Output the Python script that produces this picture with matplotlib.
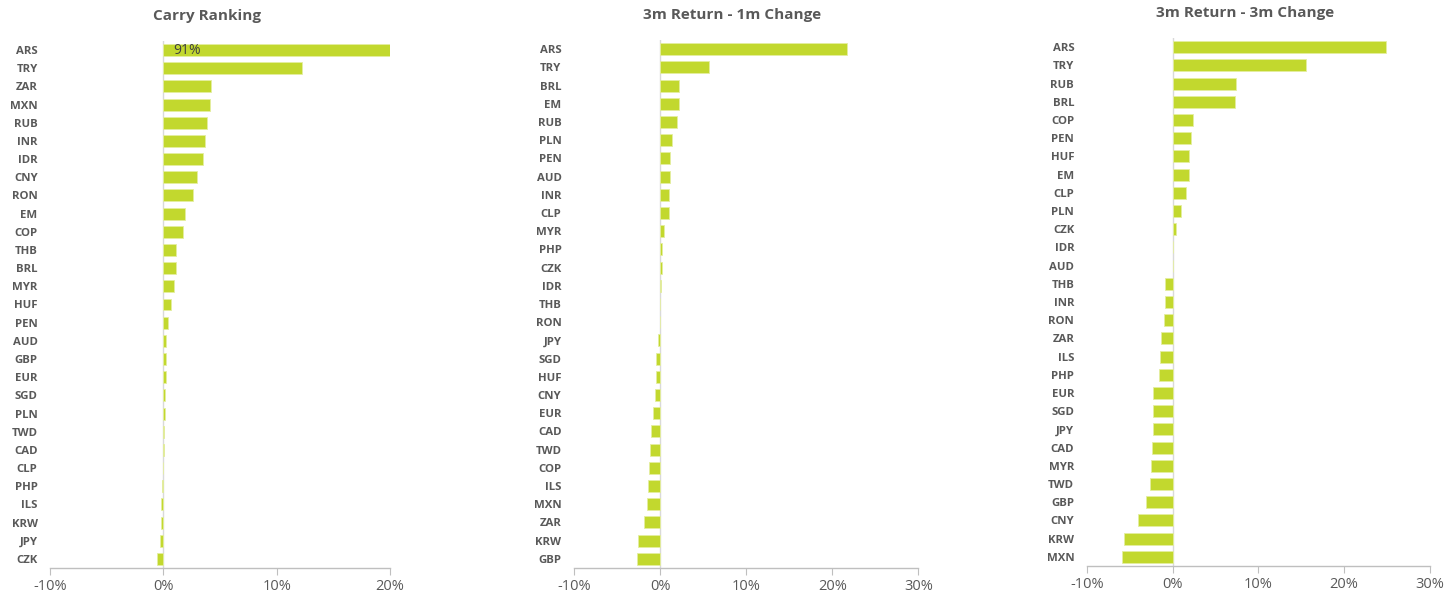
import matplotlib
matplotlib.use("Agg")
import matplotlib.pyplot as plt
from matplotlib.ticker import FuncFormatter

# ---------------- data (in %) ----------------
carry_ccy = ["ARS", "TRY", "ZAR", "MXN", "RUB", "INR", "IDR", "CNY", "RON", "EM",
             "COP", "THB", "BRL", "MYR", "HUF", "PEN", "AUD", "GBP", "EUR", "SGD",
             "PLN", "TWD", "CAD", "CLP", "PHP", "ILS", "KRW", "JPY", "CZK"]
carry_val = [91.0, 12.2, 4.2, 4.1, 3.86, 3.7, 3.5, 3.0, 2.65, 1.94,
             1.74, 1.15, 1.12, 0.94, 0.65, 0.38, 0.24, 0.22, 0.22, 0.18,
             0.12, 0.10, 0.03, 0.01, -0.10, -0.18, -0.22, -0.30, -0.55]

ret1m_ccy = ["ARS", "TRY", "BRL", "EM", "RUB", "PLN", "PEN", "AUD", "INR", "CLP",
             "MYR", "PHP", "CZK", "IDR", "THB", "RON", "JPY", "SGD", "HUF", "CNY",
             "EUR", "CAD", "TWD", "COP", "ILS", "MXN", "ZAR", "KRW", "GBP"]
ret1m_val = [21.7, 5.73, 2.2, 2.17, 1.93, 1.39, 1.12, 1.12, 1.0, 1.0,
             0.46, 0.27, 0.19, 0.05, 0.02, -0.02, -0.27, -0.43, -0.5, -0.62,
             -0.85, -1.0, -1.12, -1.3, -1.43, -1.55, -1.9, -2.52, -2.67]

ret3m_ccy = ["ARS", "TRY", "RUB", "BRL", "COP", "PEN", "HUF", "EM", "CLP", "PLN",
             "CZK", "IDR", "AUD", "THB", "INR", "RON", "ZAR", "ILS", "PHP", "EUR",
             "SGD", "JPY", "CAD", "MYR", "TWD", "GBP", "CNY", "KRW", "MXN"]
ret3m_val = [24.9, 15.6, 7.38, 7.26, 2.37, 2.1, 1.9, 1.88, 1.53, 0.99,
             0.45, 0.05, 0.0, -0.82, -0.89, -1.05, -1.32, -1.44, -1.52, -2.25,
             -2.29, -2.29, -2.41, -2.53, -2.61, -3.11, -4.0, -5.67, -5.83]

titles = ["Carry Ranking", "3m Return - 1m Change", "3m Return - 3m Change"]
xlims = [(-10, 20), (-10, 30), (-10, 30)]
xticks = [[-10, 0, 10, 20], [-10, 0, 10, 20, 30], [-10, 0, 10, 20, 30]]

# ---------------- style ----------------
BAR = "#C2D82E"
TXT = "#595959"
AXC = "#BFBFBF"
plt.rcParams["font.family"] = ["Open Sans", "DejaVu Sans"]

W, H = 1445, 598
fig = plt.figure(figsize=(W / 100, H / 100), dpi=100)

# axes boxes in pixels: left, right, top, bottom
boxes = [(50, 390, 41, 568), (574, 918.3, 40, 568), (1086.7, 1430, 38, 566)]
title_pos = [(207, 16), (732, 15), (1245, 13)]

panels = [(carry_ccy, carry_val), (ret1m_ccy, ret1m_val), (ret3m_ccy, ret3m_val)]

for k, (ccy, val) in enumerate(panels):
    l, r, t, b = boxes[k]
    ax = fig.add_axes([l / W, 1 - b / H, (r - l) / W, (b - t) / H])
    y = list(range(len(ccy)))
    ax.barh(y, val, height=0.66, color=BAR, edgecolor="#E4EEA0", linewidth=0.6,
            zorder=2)
    ax.set_ylim(len(ccy) - 0.5, -0.5)
    ax.set_xlim(*xlims[k])
    ax.set_xticks(xticks[k])
    ax.xaxis.set_major_formatter(FuncFormatter(lambda v, p: f"{v:.0f}%"))
    ax.set_yticks(y)
    ax.set_yticklabels(ccy, fontsize=8.2, fontweight="bold", color=TXT)
    ax.tick_params(axis="y", length=0, pad=9)
    ax.tick_params(axis="x", length=5, color=AXC, labelcolor=TXT, labelsize=10.5,
                   pad=3)
    for s in ["top", "right", "left"]:
        ax.spines[s].set_visible(False)
    ax.spines["bottom"].set_color(AXC)
    ax.spines["bottom"].set_linewidth(1.0)
    ax.axvline(0, color="#D9D9D9", linewidth=1.0, zorder=1)

    fig.text(title_pos[k][0] / W, 1 - title_pos[k][1] / H, titles[k],
             ha="center", va="center", fontsize=11, fontweight="bold", color=TXT)

    if k == 0:
        # ARS carry is off scale, show its value inside the bar
        ax.annotate(f"{val[0]:.0f}%", xy=(0, 0), xytext=(7.5, 0),
                    textcoords="offset points", ha="left", va="center",
                    fontsize=10, color="#404040", zorder=3)

fig.savefig("out.png", dpi=100)
